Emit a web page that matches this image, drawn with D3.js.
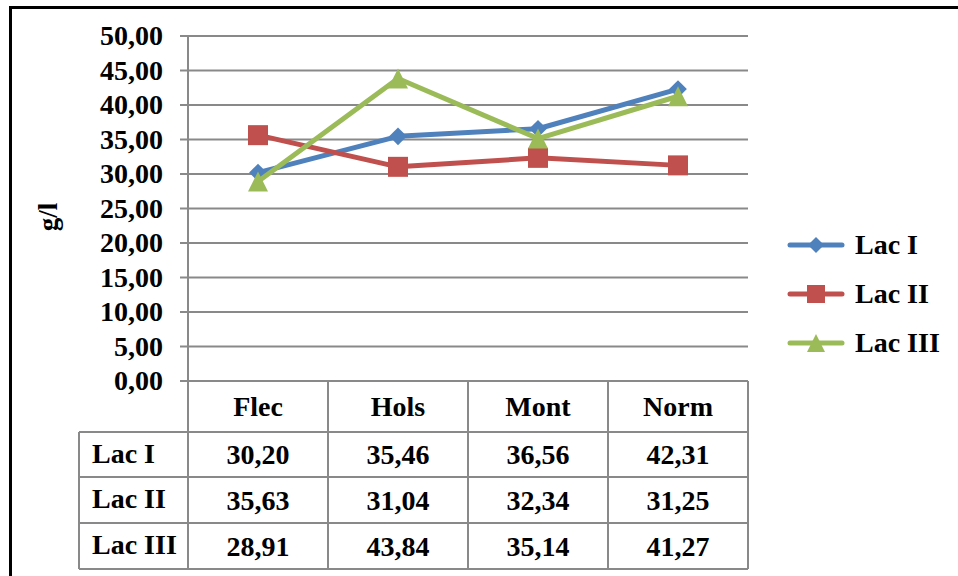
<!DOCTYPE html>
<html>
<head>
<meta charset="utf-8">
<script src="https://cdn.jsdelivr.net/npm/d3@7"></script>
<style>
  html, body { margin: 0; padding: 0; background: #fff; }
</style>
</head>
<body>
<svg id="chart" width="958" height="576" font-family="'Liberation Serif', 'DejaVu Serif', serif" font-weight="bold"></svg>
<script>
// Lactose content (g/l) by breed
const categories = ["Flec", "Hols", "Mont", "Norm"];
const seriesNames = ["Lac I", "Lac II", "Lac III"];
const lacI = [30.20, 35.46, 36.56, 42.31];
const lacII = [35.63, 31.04, 32.34, 31.25];
const lacIII = [28.91, 43.84, 35.14, 41.27];
const yTicks = [0, 5, 10, 15, 20, 25, 30, 35, 40, 45, 50];

const seriesValues = [lacI, lacII, lacIII];
const colors = ["#4F81BD", "#C0504D", "#9BBB59"];
const markers = ["diamond", "square", "triangle"];

const svg = d3.select("#chart");
const fmt = v => d3.format(".2f")(v).replace(".", ",");

// outer frame
svg.append("path")
  .attr("d", "M10.5,576 V7.5 H958")
  .attr("fill", "none").attr("stroke", "#000").attr("stroke-width", 3);

const plotLeft = 188, plotRight = 748, plotTop = 36, plotBottom = 381;
const x = d3.scaleBand().domain(categories).range([plotLeft, plotRight]);
const y = d3.scaleLinear().domain([0, 50]).range([plotBottom, plotTop]);
const grid = "#898989";
const fontSize = 28;

// gridlines and tick marks
svg.append("g").selectAll("line").data(yTicks).join("line")
  .attr("x1", plotLeft - 8).attr("x2", plotRight)
  .attr("y1", d => y(d)).attr("y2", d => y(d))
  .attr("stroke", grid).attr("stroke-width", 2);

// y tick labels
svg.append("g").selectAll("text").data(yTicks).join("text")
  .attr("x", 163).attr("y", d => y(d))
  .attr("dy", "0.33em")
  .attr("text-anchor", "end")
  .attr("font-size", fontSize)
  .text(d => fmt(d));

// y axis title
svg.append("text")
  .attr("transform", "translate(57,217) rotate(-90)")
  .attr("text-anchor", "middle")
  .attr("font-size", 27)
  .text("g/l");

// data table
const rowTop = [381, 432, 477, 523];
const tableBottom = 569;
const tableLeft = 79;
const tg = svg.append("g").attr("stroke", grid).attr("stroke-width", 2);
// vertical axis line through table
tg.append("line").attr("x1", plotLeft).attr("x2", plotLeft).attr("y1", plotTop).attr("y2", tableBottom);
// category dividers
categories.forEach(c => {
  const xr = x(c) + x.bandwidth();
  tg.append("line").attr("x1", xr).attr("x2", xr).attr("y1", plotBottom).attr("y2", tableBottom);
});
// table left edge
tg.append("line").attr("x1", tableLeft).attr("x2", tableLeft).attr("y1", rowTop[1]).attr("y2", tableBottom);
// horizontal rules
[rowTop[1], rowTop[2], rowTop[3], tableBottom].forEach(ry => {
  tg.append("line").attr("x1", tableLeft).attr("x2", plotRight).attr("y1", ry).attr("y2", ry);
});

// header
svg.append("g").selectAll("text").data(categories).join("text")
  .attr("x", d => x(d) + x.bandwidth() / 2)
  .attr("y", (rowTop[0] + rowTop[1]) / 2)
  .attr("dy", "0.35em")
  .attr("text-anchor", "middle")
  .attr("font-size", fontSize)
  .text(d => d);

// rows
seriesNames.forEach((name, i) => {
  const cy = (rowTop[i + 1] + (i + 2 < rowTop.length ? rowTop[i + 2] : tableBottom)) / 2;
  svg.append("text")
    .attr("x", 92).attr("y", cy).attr("dy", "0.3em")
    .attr("font-size", fontSize).text(name);
  svg.append("g").selectAll("text").data(seriesValues[i]).join("text")
    .attr("x", (d, j) => x(categories[j]) + x.bandwidth() / 2)
    .attr("y", cy).attr("dy", "0.35em")
    .attr("text-anchor", "middle")
    .attr("font-size", fontSize)
    .text(d => fmt(d));
});

// marker shapes
function markerPath(kind) {
  if (kind === "diamond") return d3.symbol(d3.symbolDiamond2, 200)();
  if (kind === "square") return "M-10,-10H10V10H-10Z";
  return "M0,-10L10,10H-10Z";
}

const line = d3.line()
  .x((d, j) => x(categories[j]) + x.bandwidth() / 2)
  .y(d => y(d));

seriesValues.forEach((vals, i) => {
  const g = svg.append("g");
  g.append("path").datum(vals)
    .attr("d", line)
    .attr("fill", "none")
    .attr("stroke", colors[i])
    .attr("stroke-width", 5)
    .attr("stroke-linejoin", "round")
    .attr("stroke-linecap", "round");
  g.selectAll("path.m").data(vals).join("path")
    .attr("class", "m")
    .attr("transform", (d, j) => `translate(${x(categories[j]) + x.bandwidth() / 2},${y(d)})`)
    .attr("d", markerPath(markers[i]))
    .attr("fill", colors[i]);
});

// legend
const legendY = [245, 294, 343];
seriesNames.forEach((name, i) => {
  const g = svg.append("g").attr("transform", `translate(0,${legendY[i]})`);
  g.append("line").attr("x1", 790).attr("x2", 842).attr("y1", 0).attr("y2", 0)
    .attr("stroke", colors[i]).attr("stroke-width", 5).attr("stroke-linecap", "round");
  g.append("path").attr("transform", "translate(816,0) scale(0.9)")
    .attr("d", markerPath(markers[i])).attr("fill", colors[i]);
  g.append("text").attr("x", 855).attr("y", 0).attr("dy", "0.33em")
    .attr("font-size", fontSize).text(name);
});
</script>
</body>
</html>
